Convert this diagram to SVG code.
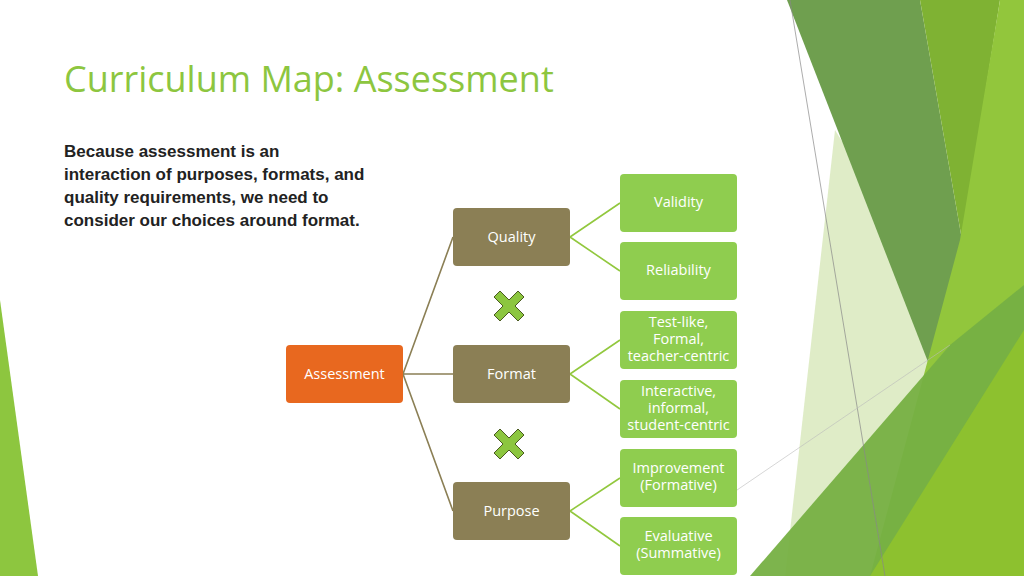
<svg xmlns="http://www.w3.org/2000/svg" width="1024" height="576" viewBox="0 0 1024 576">
<style>
.t{font-family:"Open Sans","DejaVu Sans",sans-serif;font-size:14.5px;fill:#fff;text-anchor:middle}
.mid{fill:#8b7f55}
.leaf{fill:#8fcd4f}
.c{stroke:#8b7f55;stroke-width:1.6;fill:none}
.cl{stroke:#92c83e;stroke-width:1.6;fill:none}
.x{fill:#8cc63f;stroke:#4a5a20;stroke-width:1}
</style>
<rect width="1024" height="576" fill="#fff"/>
<g id="decor">
<polygon points="0,300 38,576 0,576" fill="#8dc63f"/>
<polygon points="835,130 960,330 930,576 785,576" fill="#d9e9bd" opacity="0.85"/>
<polygon points="787,0 920,0 962,240 937,385" fill="#6f9f4f"/>
<polygon points="920,0 1000,0 962,240" fill="#7fb233"/>
<polygon points="1000,0 1024,0 1024,576 870,576 960,240" fill="#92c63c"/>
<polygon points="750,576 950,345 1024,285 1024,576" fill="#76b043" opacity="0.95"/>
<polygon points="870,576 1024,330 1024,576" fill="#8dc12f"/>
<line x1="790" y1="0" x2="885" y2="576" stroke="#888" stroke-width="0.7"/>
<line x1="715" y1="505" x2="950" y2="345" stroke="#bbb" stroke-width="0.6"/>
</g>
<text x="64" y="92" font-family="Open Sans,DejaVu Sans,sans-serif" font-size="36" fill="#8dc63f">Curriculum Map: Assessment</text>
<g font-family="Liberation Sans,Arial,sans-serif" font-size="17" font-weight="bold" fill="#222">
<text x="64" y="157">Because assessment is an</text>
<text x="64" y="180">interaction of purposes, formats, and</text>
<text x="64" y="203">quality requirements, we need to</text>
<text x="64" y="226">consider our choices around format.</text>
</g>
<g id="connectors">
<path class="c" d="M403,374 L453,237 M403,374 L453,374 M403,374 L453,511"/>
<path class="cl" d="M570,237 L620,203 M570,237 L620,271 M570,374 L620,340 M570,374 L620,409 M570,511 L620,478 M570,511 L620,546"/>
</g>
<g id="assessment"><rect x="286" y="345" width="117" height="58" rx="4" fill="#e8681f"/><text class="t" x="344.500" y="379">Assessment</text></g>
<g id="quality"><rect class="mid" x="453" y="208" width="117" height="58" rx="4"/><text class="t" x="511.500" y="242">Quality</text></g>
<g id="format"><rect class="mid" x="453" y="345" width="117" height="58" rx="4"/><text class="t" x="511.500" y="379">Format</text></g>
<g id="purpose"><rect class="mid" x="453" y="482" width="117" height="58" rx="4"/><text class="t" x="511.500" y="516">Purpose</text></g>
<g id="validity"><rect class="leaf" x="620" y="174" width="117" height="58" rx="4"/><text class="t" x="678.500" y="207">Validity</text></g>
<g id="reliability"><rect class="leaf" x="620" y="242" width="117" height="58" rx="4"/><text class="t" x="678.500" y="275">Reliability</text></g>
<g id="testlike"><rect class="leaf" x="620" y="311" width="117" height="58" rx="4"/><text class="t" x="678.500" y="327">Test-like,</text><text class="t" x="678.500" y="344">Formal,</text><text class="t" x="678.500" y="361">teacher-centric</text></g>
<g id="interactive"><rect class="leaf" x="620" y="380" width="117" height="58" rx="4"/><text class="t" x="678.500" y="396">Interactive,</text><text class="t" x="678.500" y="413">informal,</text><text class="t" x="678.500" y="430">student-centric</text></g>
<g id="improvement"><rect class="leaf" x="620" y="449" width="117" height="58" rx="4"/><text class="t" x="678.500" y="473">Improvement</text><text class="t" x="678.500" y="490">(Formative)</text></g>
<g id="evaluative"><rect class="leaf" x="620" y="517" width="117" height="58" rx="4"/><text class="t" x="678.500" y="541">Evaluative</text><text class="t" x="678.500" y="558">(Summative)</text></g>
<defs><path id="xm" d="M-15,-9 L-9,-15 L0,-6 L9,-15 L15,-9 L6,0 L15,9 L9,15 L0,6 L-9,15 L-15,9 L-6,0 Z"/></defs>
<g id="x1"><use href="#xm" class="x" x="509" y="306"/></g>
<g id="x2"><use href="#xm" class="x" x="509" y="444"/></g>
</svg>
